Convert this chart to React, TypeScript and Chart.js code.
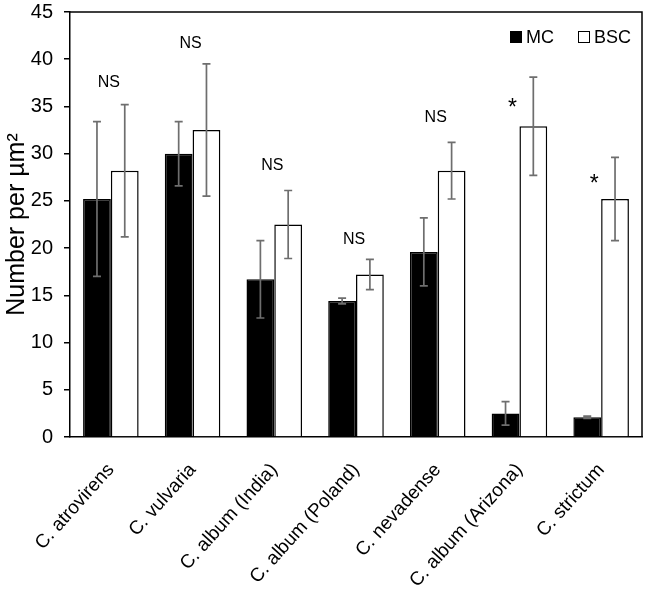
import React, { useEffect, useRef } from 'react';
import { Chart, registerables } from 'chart.js';

Chart.register(...registerables);

const categories = [
  'C. atrovirens',
  'C. vulvaria',
  'C. album (India)',
  'C. album (Poland)',
  'C. nevadense',
  'C. album (Arizona)',
  'C. strictum',
];
const mcValues = [25.2, 30.0, 16.7, 14.4, 19.6, 2.5, 2.1];
const mcErrors = [8.2, 3.4, 4.1, 0.3, 3.6, 1.25, 0.12];
const bscValues = [28.2, 32.5, 22.5, 17.2, 28.2, 32.9, 25.2];
const bscErrors = [7.0, 7.0, 3.6, 1.6, 3.0, 5.2, 4.4];
const sigLabels = ['NS', 'NS', 'NS', 'NS', 'NS', '*', '*'];
const sigLabelValues = [37.5, 41.7, 28.7, 20.9, 33.8, 35.4, 27.4];
const yTickValues = [0, 5, 10, 15, 20, 25, 30, 35, 40, 45];
const seriesNames = ['MC', 'BSC'];
const yTitle = 'Number per µm²';

const FONT = "'Liberation Sans', Arial, sans-serif";

const overlayPlugin = {
  id: 'overlay',
  afterDatasetsDraw(chart: any) {
    const { ctx, chartArea, scales } = chart;
    const y = scales.y;
    const x = scales.x;
    const errs = [mcErrors, bscErrors];
    const vals = [mcValues, bscValues];
    ctx.save();
    // error bars
    ctx.strokeStyle = '#6e6e6e';
    ctx.lineWidth = 1.7;
    [0, 1].forEach((di) => {
      const meta = chart.getDatasetMeta(di);
      meta.data.forEach((bar: any, i: number) => {
        const cx = bar.x;
        const yt = y.getPixelForValue(vals[di][i] + errs[di][i]);
        const yb = y.getPixelForValue(vals[di][i] - errs[di][i]);
        ctx.beginPath();
        ctx.moveTo(cx, yt);
        ctx.lineTo(cx, yb);
        ctx.moveTo(cx - 4, yt);
        ctx.lineTo(cx + 4, yt);
        ctx.moveTo(cx - 4, yb);
        ctx.lineTo(cx + 4, yb);
        ctx.stroke();
      });
    });
    // significance labels
    ctx.fillStyle = '#000';
    ctx.textAlign = 'center';
    ctx.textBaseline = 'middle';
    sigLabels.forEach((lab, i) => {
      const cx = x.getPixelForValue(i);
      const cy = y.getPixelForValue(sigLabelValues[i]);
      if (lab === '*') {
        ctx.font = `23px ${FONT}`;
        ctx.fillText(lab, cx - 7, cy + 6);
      } else {
        ctx.font = `16px ${FONT}`;
        ctx.fillText(lab, cx - 2, cy);
      }
    });
    // plot box (top and right)
    ctx.strokeStyle = '#000';
    ctx.lineWidth = 1.5;
    ctx.beginPath();
    ctx.moveTo(chartArea.left, chartArea.top);
    ctx.lineTo(chartArea.right, chartArea.top);
    ctx.lineTo(chartArea.right, chartArea.bottom);
    ctx.stroke();
    // legend
    const ly = chartArea.top + 25;
    const right = chartArea.right;
    ctx.font = `18px ${FONT}`;
    ctx.textAlign = 'left';
    ctx.textBaseline = 'middle';
    let bx = right - 132;
    ctx.fillStyle = '#000';
    ctx.fillRect(bx, ly - 6, 12, 12);
    ctx.fillText(seriesNames[0], bx + 16, ly + 1);
    bx = right - 64;
    ctx.fillStyle = '#fff';
    ctx.fillRect(bx, ly - 6, 12, 12);
    ctx.lineWidth = 1;
    ctx.strokeRect(bx + 0.5, ly - 5.5, 11, 11);
    ctx.fillStyle = '#000';
    ctx.fillText(seriesNames[1], bx + 16, ly + 1);
    ctx.restore();
  },
};

export default function App() {
  const ref = useRef<HTMLCanvasElement>(null);
  useEffect(() => {
    if (!ref.current) return;
    const chart = new Chart(ref.current, {
      type: 'bar',
      data: {
        labels: categories,
        datasets: [
          {
            label: seriesNames[0],
            data: mcValues,
            backgroundColor: '#000',
            borderColor: '#000',
            borderWidth: 1.5,
          },
          {
            label: seriesNames[1],
            data: bscValues,
            backgroundColor: '#fff',
            borderColor: '#000',
            borderWidth: 1.5,
          },
        ],
      },
      options: {
        responsive: false,
        animation: false,
        layout: { padding: { top: 12, right: 4, left: 0, bottom: 0 } },
        datasets: { bar: { categoryPercentage: 0.68, barPercentage: 1.0 } },
        plugins: {
          legend: { display: false },
          tooltip: { enabled: false },
        },
        scales: {
          x: {
            grid: { display: false },
            border: { display: true, color: '#000', width: 1.5 },
            ticks: {
              autoSkip: false,
              maxRotation: 48,
              minRotation: 48,
              color: '#000',
              padding: 14,
              font: { family: FONT, size: 19 },
            },
            afterFit: (s: any) => {
              s.height = 166;
              s.paddingLeft = 0;
              s.paddingRight = 0;
              s.paddingTop = 0;
              s.paddingBottom = 0;
            },
          },
          y: {
            min: 0,
            max: 45,
            afterBuildTicks: (s: any) => {
              s.ticks = yTickValues.map((v) => ({ value: v }));
            },
            grid: {
              drawOnChartArea: false,
              drawTicks: true,
              tickLength: 6,
              color: '#000',
              lineWidth: 1.5,
            },
            border: { display: true, color: '#000', width: 1.5 },
            ticks: {
              color: '#000',
              padding: 11,
              font: { family: FONT, size: 20 },
            },
            title: {
              display: true,
              text: yTitle,
              color: '#000',
              font: { family: FONT, size: 25 },
              padding: { top: 2, bottom: 0 },
            },
            afterFit: (s: any) => {
              s.width = 70;
              s.paddingTop = 0;
              s.paddingBottom = 0;
              s.paddingLeft = 0;
              s.paddingRight = 0;
            },
          },
        },
      },
      plugins: [overlayPlugin],
    });
    return () => chart.destroy();
  }, []);
  return (
    <div style={{ position: 'fixed', left: 0, top: 0, width: 646, height: 603, background: '#fff' }}>
      <canvas ref={ref} width={646} height={603} />
    </div>
  );
}
